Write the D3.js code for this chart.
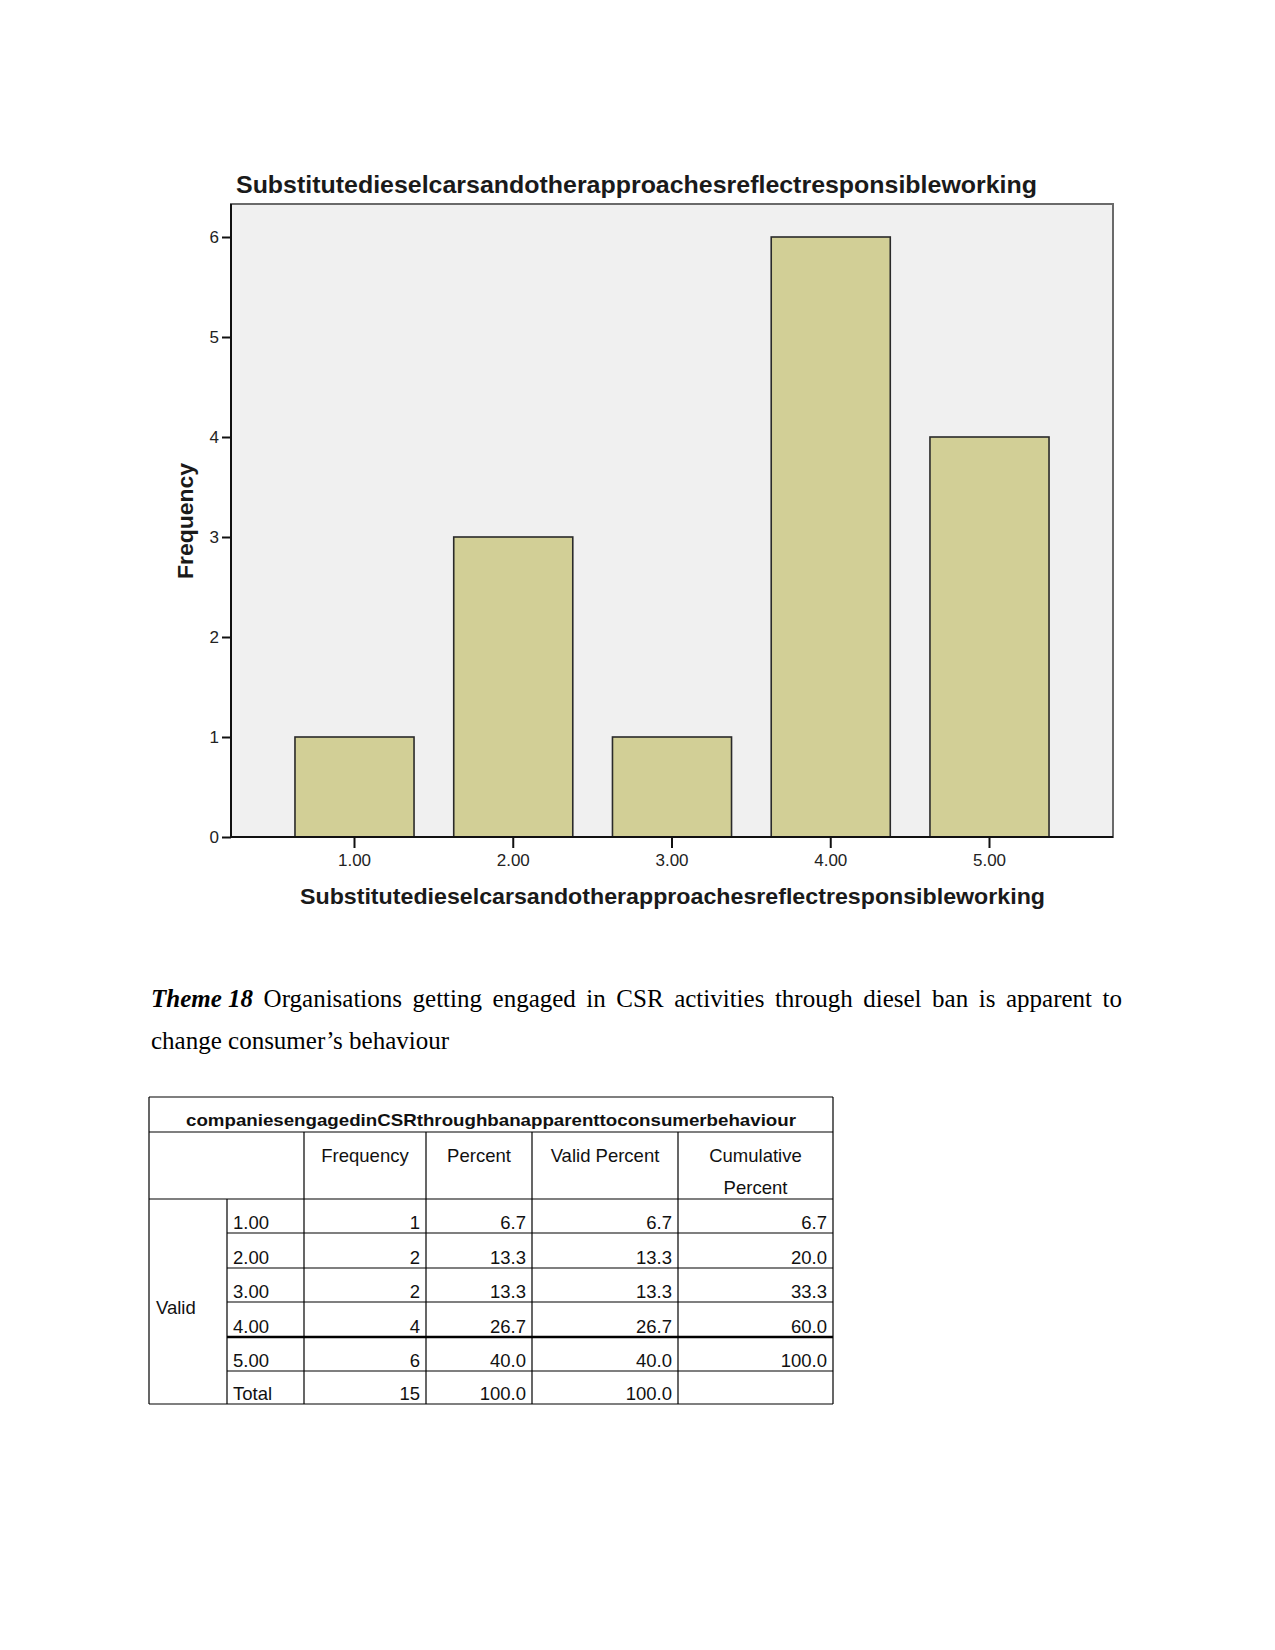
<!DOCTYPE html>
<html>
<head>
<meta charset="utf-8">
<script src="https://cdn.jsdelivr.net/npm/d3@7"></script>
<style>
  html, body { margin: 0; padding: 0; background: #fff; }
  svg { display: block; }
</style>
</head>
<body>
<svg id="page" width="1275" height="1650"></svg>
<script>
// ---------- chart data ----------
const categories = ["1.00", "2.00", "3.00", "4.00", "5.00"];
const frequencies = [1, 3, 1, 6, 4];
const yTicks = [0, 1, 2, 3, 4, 5, 6];
const chartTitle = "Substitutedieselcarsandotherapproachesreflectresponsibleworking";
const xAxisTitle = "Substitutedieselcarsandotherapproachesreflectresponsibleworking";
const yAxisTitle = "Frequency";

// ---------- paragraph ----------
const themeLabel = "Theme 18";
const line1Words = ["Organisations", "getting", "engaged", "in", "CSR", "activities", "through", "diesel", "ban", "is", "apparent", "to"];
const line2Text = "change consumer\u2019s behaviour";

// ---------- table data ----------
const tableTitle = "companiesengagedinCSRthroughbanapparenttoconsumerbehaviour";
const tableHeaders = ["Frequency", "Percent", "Valid Percent", ["Cumulative", "Percent"]];
const tableGroup = "Valid";
const tableRows = ["1.00", "2.00", "3.00", "4.00", "5.00", "Total"];
const tableFreq = ["1", "2", "2", "4", "6", "15"];
const tablePercent = ["6.7", "13.3", "13.3", "26.7", "40.0", "100.0"];
const tableValid = ["6.7", "13.3", "13.3", "26.7", "40.0", "100.0"];
const tableCum = ["6.7", "20.0", "33.3", "60.0", "100.0", ""];

const svg = d3.select("#page");
const sans = "'Liberation Sans', Arial, sans-serif";
const serif = "'Liberation Serif', 'Times New Roman', serif";

// ---------- chart ----------
const plot = { left: 231, right: 1113, top: 204, bottom: 837 };
const x = d3.scaleBand().domain(categories).range([plot.left, plot.right])
  .paddingInner(0.25).paddingOuter(0.403);
const y = d3.scaleLinear().domain([0, 6.33]).range([plot.bottom, plot.top]);

const g = svg.append("g");
g.append("rect").attr("x", plot.left).attr("y", plot.top)
  .attr("width", plot.right - plot.left).attr("height", plot.bottom - plot.top)
  .attr("fill", "#f0f0f0").attr("stroke", "#6a6a6a").attr("stroke-width", 2);

g.selectAll("rect.bar").data(frequencies).join("rect").attr("class", "bar")
  .attr("x", (d, i) => x(categories[i]))
  .attr("y", d => y(d))
  .attr("width", x.bandwidth())
  .attr("height", d => y(0) - y(d))
  .attr("fill", "#d2cf96").attr("stroke", "#2a2a2a").attr("stroke-width", 1.6);

const yAxis = g.append("g").attr("transform", `translate(${plot.left},0)`)
  .call(d3.axisLeft(y).tickValues(yTicks).tickFormat(d3.format("d")).tickSize(9).tickPadding(3).tickSizeOuter(0));
yAxis.select(".domain").attr("stroke", "#111").attr("stroke-width", 2).attr("d", `M0,${plot.top}V${plot.bottom}`);
yAxis.selectAll(".tick line").attr("stroke", "#111").attr("stroke-width", 2);
yAxis.selectAll(".tick text").attr("font-family", sans).attr("font-size", 17).attr("fill", "#222");

const xAxis = g.append("g").attr("transform", `translate(0,${plot.bottom})`)
  .call(d3.axisBottom(x).tickSize(11).tickPadding(6).tickSizeOuter(0));
xAxis.select(".domain").attr("stroke", "#111").attr("stroke-width", 2).attr("d", `M${plot.left},0H${plot.right}`);
xAxis.selectAll(".tick line").attr("stroke", "#111").attr("stroke-width", 2);
xAxis.selectAll(".tick text").attr("font-family", sans).attr("font-size", 17).attr("fill", "#222");

g.append("text").attr("x", 236).attr("y", 193).text(chartTitle)
  .attr("font-family", sans).attr("font-size", 24).attr("font-weight", "bold").attr("fill", "#1a1a1a")
  .attr("textLength", 801).attr("lengthAdjust", "spacingAndGlyphs");

g.append("text").attr("x", 300).attr("y", 904).text(xAxisTitle)
  .attr("font-family", sans).attr("font-size", 22).attr("font-weight", "bold").attr("fill", "#1a1a1a")
  .attr("textLength", 745).attr("lengthAdjust", "spacingAndGlyphs");

g.append("text").attr("transform", "translate(193,521) rotate(-90)").attr("text-anchor", "middle")
  .text(yAxisTitle).attr("font-family", sans).attr("font-size", 22).attr("font-weight", "bold")
  .attr("fill", "#1a1a1a").attr("textLength", 116).attr("lengthAdjust", "spacingAndGlyphs");

// ---------- paragraph ----------
const para = svg.append("g").attr("font-family", serif).attr("font-size", 25).attr("fill", "#000");
const lineLeft = 151, lineRight = 1122, base1 = 1007, base2 = 1049;
const items = [{ t: themeLabel, bold: true }].concat(line1Words.map(w => ({ t: w, bold: false })));
const nodes = items.map(it => {
  const tx = para.append("text").attr("y", base1).text(it.t);
  if (it.bold) tx.attr("font-weight", "bold").attr("font-style", "italic");
  return { sel: tx, w: tx.node().getComputedTextLength() };
});
const totalW = d3.sum(nodes, n => n.w);
const gap = (lineRight - lineLeft - totalW) / (nodes.length - 1);
let cx = lineLeft;
nodes.forEach(n => { n.sel.attr("x", cx); cx += n.w + gap; });
para.append("text").attr("x", lineLeft).attr("y", base2).text(line2Text);

// ---------- table ----------
const colX = [149, 227, 304, 426, 532, 678, 833];
const rowY = [1097, 1132, 1199, 1233, 1268, 1302, 1337, 1371, 1404];
const tb = svg.append("g").attr("font-family", sans).attr("fill", "#111");
const ln = (x1, y1, x2, y2, w) => tb.append("line").attr("x1", x1).attr("y1", y1).attr("x2", x2).attr("y2", y2)
  .attr("stroke", "#000").attr("stroke-width", w || 1.2);

// outer frame
ln(colX[0], rowY[0], colX[6], rowY[0]);
ln(colX[0], rowY[8], colX[6], rowY[8]);
ln(colX[0], rowY[0], colX[0], rowY[8]);
ln(colX[6], rowY[0], colX[6], rowY[8]);
// title row bottom + header bottom
ln(colX[0], rowY[1], colX[6], rowY[1]);
ln(colX[0], rowY[2], colX[6], rowY[2]);
// vertical lines
ln(colX[1], rowY[2], colX[1], rowY[8]);
[2, 3, 4, 5].forEach(c => ln(colX[c], rowY[1], colX[c], rowY[8]));
// data row separators (skip first column)
for (let r = 3; r < 8; r++) ln(colX[1], rowY[r], colX[6], rowY[r], r === 6 ? 2.6 : 1.2);

tb.append("text").attr("x", (colX[0] + colX[6]) / 2).attr("y", 1126).attr("text-anchor", "middle")
  .attr("font-size", 17).attr("font-weight", "bold").text(tableTitle)
  .attr("textLength", 610).attr("lengthAdjust", "spacingAndGlyphs");

tableHeaders.forEach((h, i) => {
  const cxh = (colX[i + 2] + colX[i + 3]) / 2;
  const lines = Array.isArray(h) ? h : [h];
  lines.forEach((t, j) => tb.append("text").attr("x", cxh).attr("y", 1162 + j * 32)
    .attr("text-anchor", "middle").attr("font-size", 18.5).text(t));
});

tb.append("text").attr("x", 156).attr("y", 1314).attr("font-size", 18.5).text(tableGroup);

const cols = [tableFreq, tablePercent, tableValid, tableCum];
tableRows.forEach((r, i) => {
  const by = rowY[i + 3] - 4;
  tb.append("text").attr("x", 233).attr("y", by).attr("font-size", 18.5).text(r);
  cols.forEach((col, c) => tb.append("text").attr("x", colX[c + 3] - 6).attr("y", by)
    .attr("text-anchor", "end").attr("font-size", 18.5).text(col[i]));
});
</script>
</body>
</html>
